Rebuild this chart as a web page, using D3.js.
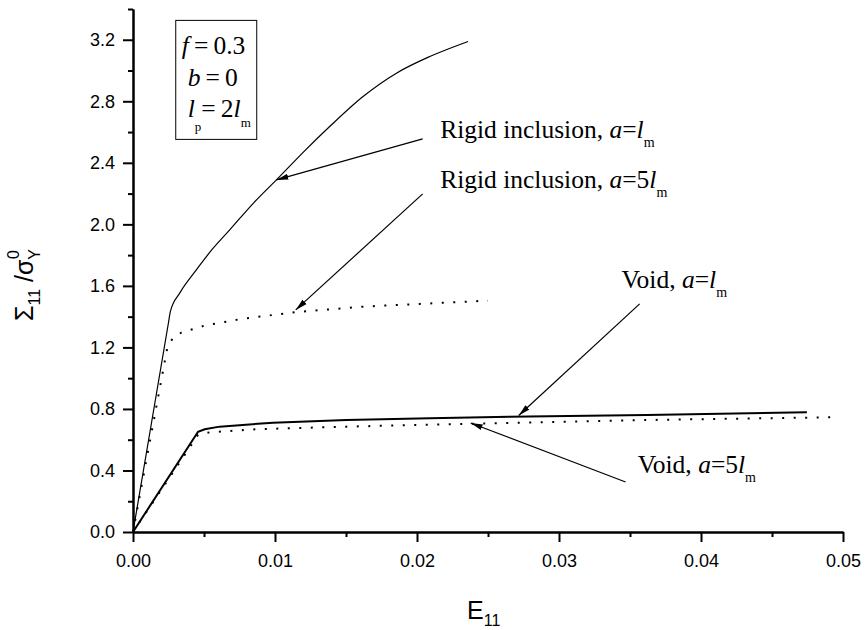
<!DOCTYPE html>
<html>
<head>
<meta charset="utf-8">
<script src="https://cdn.jsdelivr.net/npm/d3@7"></script>
<style>
body { margin: 0; background: #fff; }
.axis text { font-family: "Liberation Sans", Arial, sans-serif; font-size: 18px; fill: #000; }
.axis path, .axis line { stroke: #000; stroke-width: 2; }
.title { font-family: "Liberation Sans", Arial, sans-serif; fill: #000; }
.note { font-family: "Liberation Serif", "Times New Roman", serif; font-size: 25.5px; fill: #000; }
.curve { fill: none; stroke: #000; }
</style>
</head>
<body>
<script>
var width = 865;
var height = 630;

// E11 vs Sigma11/sigmaY0
var rigidL  = [[0,0],[0.0025,1.362],[0.00263,1.433],[0.00329,1.553],[0.00446,1.704],[0.0056,1.84],[0.00681,1.964],[0.0085,2.14],[0.0101,2.289],[0.0120,2.47],[0.01385,2.636],[0.0162,2.831],[0.01855,2.983],[0.0209,3.091],[0.0236,3.189]];
var rigid5L = [[0,0],[0.0024,1.19],[0.0028,1.262],[0.0034,1.296],[0.00505,1.342],[0.0075,1.383],[0.01139,1.429],[0.0162,1.465],[0.0202,1.483],[0.025,1.504]];
var voidL   = [[0,0],[0.00458,0.652],[0.00505,0.668],[0.0061,0.685],[0.00986,0.711],[0.01503,0.728],[0.0209,0.740],[0.0265,0.750],[0.0362,0.761],[0.04746,0.778]];
var void5L  = [[0,0],[0.00458,0.631],[0.0054,0.648],[0.00869,0.668],[0.01503,0.685],[0.0221,0.700],[0.0265,0.709],[0.0362,0.728],[0.0493,0.746]];

var xMajor = [0, 0.01, 0.02, 0.03, 0.04, 0.05];
var xMinor = [0.005, 0.015, 0.025, 0.035, 0.045];
var yMajor = [0, 0.4, 0.8, 1.2, 1.6, 2.0, 2.4, 2.8, 3.2];
var yMinor = [0.2, 0.6, 1.0, 1.4, 1.8, 2.2, 2.6, 3.0, 3.4];

// arrows: [tail E, tail S, tip E, tip S]
var arrows = [
    [0.0204, 2.556, 0.0101, 2.289],
    [0.0204, 2.198, 0.01146, 1.444],
    [0.03568, 1.483, 0.02716, 0.757],
    [0.03469, 0.325, 0.02378, 0.709]
];
// labels: [E, S, prefix, text between italic a and italic l]
var labels = [
    [0.02163, 2.563, "Rigid inclusion, ", "="],
    [0.02163, 2.237, "Rigid inclusion, ", "=5"],
    [0.0344, 1.587, "Void, ", "="],
    [0.03554, 0.384, "Void, ", "=5"]
];

var svg = d3.select("body").append("svg")
    .attr("width", width)
    .attr("height", height);

var x = d3.scaleLinear().domain([0, 0.05]).range([133, 843]);
var y = d3.scaleLinear().domain([0, 3.4]).range([532, 9]);

var defs = svg.append("defs");
defs.append("marker")
    .attr("id", "head")
    .attr("markerUnits", "userSpaceOnUse")
    .attr("viewBox", "0 -4 12 8")
    .attr("refX", 12)
    .attr("refY", 0)
    .attr("markerWidth", 12)
    .attr("markerHeight", 8)
    .attr("orient", "auto")
    .append("path")
    .attr("d", "M0,-3L12,0L0,3Z")
    .attr("fill", "#000");

// axes
svg.append("g")
    .attr("class", "axis")
    .attr("transform", "translate(0,532)")
    .call(d3.axisBottom(x).tickValues(xMinor).tickSize(5).tickSizeOuter(0).tickFormat(""));
svg.append("g")
    .attr("class", "axis")
    .attr("transform", "translate(0,532)")
    .call(d3.axisBottom(x).tickValues(xMajor).tickSize(10).tickSizeOuter(0).tickPadding(12).tickFormat(d3.format(".2f")));
svg.append("g")
    .attr("class", "axis")
    .attr("transform", "translate(133,0)")
    .call(d3.axisLeft(y).tickValues(yMinor).tickSize(5).tickSizeOuter(0).tickFormat(""));
svg.append("g")
    .attr("class", "axis")
    .attr("transform", "translate(133,0)")
    .call(d3.axisLeft(y).tickValues(yMajor).tickSize(10).tickSizeOuter(0).tickPadding(8).tickFormat(d3.format(".1f")));

// curves
var line = d3.line()
    .x(function(d) { return x(d[0]); })
    .y(function(d) { return y(d[1]); });

svg.append("path").attr("class", "curve")
    .attr("d", line.curve(d3.curveMonotoneX)(rigidL))
    .attr("stroke-width", 1.2);
line.curve(d3.curveLinear);
svg.append("path").attr("class", "curve").attr("d", line(voidL)).attr("stroke-width", 2);
[rigid5L, void5L].forEach(function(s) {
    svg.append("path").attr("class", "curve")
        .attr("d", line(s))
        .attr("stroke-width", 2)
        .attr("stroke-dasharray", "2,9.5");
});

// arrows
svg.selectAll(".arrow")
    .data(arrows)
    .enter()
    .append("line")
    .attr("class", "arrow")
    .attr("x1", function(d) { return x(d[0]); })
    .attr("y1", function(d) { return y(d[1]); })
    .attr("x2", function(d) { return x(d[2]); })
    .attr("y2", function(d) { return y(d[3]); })
    .attr("stroke", "#000")
    .attr("stroke-width", 1.2)
    .attr("marker-end", "url(#head)");

// curve labels
labels.forEach(function(d) {
    var t = svg.append("text")
        .attr("class", "note")
        .attr("x", x(d[0]))
        .attr("y", y(d[1]));
    t.append("tspan").text(d[2]);
    t.append("tspan").attr("font-style", "italic").text("a");
    t.append("tspan").text(d[3]);
    t.append("tspan").attr("font-style", "italic").text("l");
    t.append("tspan").attr("font-size", "14px").attr("dy", 9).text("m");
});

// parameter box
var box = svg.append("g").attr("transform", "translate(" + x(0.00301) + "," + y(3.326) + ")");
box.append("rect")
    .attr("width", 81)
    .attr("height", 119)
    .attr("fill", "none")
    .attr("stroke", "#000")
    .attr("stroke-width", 1);

var t1 = box.append("text").attr("class", "note").attr("font-size", "24px").attr("x", 6).attr("y", 34);
t1.append("tspan").attr("font-style", "italic").text("f");
t1.append("tspan").text("\u2009=\u20090.3");

var t2 = box.append("text").attr("class", "note").attr("font-size", "24px").attr("x", 12).attr("y", 66);
t2.append("tspan").attr("font-style", "italic").text("b");
t2.append("tspan").text("\u2009=\u20090");

var t3 = box.append("text").attr("class", "note").attr("font-size", "24px").attr("x", 12).attr("y", 97);
t3.append("tspan").attr("font-style", "italic").text("l");
t3.append("tspan").attr("font-size", "13px").attr("dy", 14).text("p");
t3.append("tspan").attr("dy", -14).text("=\u20092");
t3.append("tspan").attr("font-style", "italic").text("l");
t3.append("tspan").attr("font-size", "13px").attr("dy", 10).text("m");

// axis titles
var xt = svg.append("text").attr("class", "title").attr("x", 467).attr("y", 619).attr("font-size", "25px");
xt.append("tspan").text("E");
xt.append("tspan").attr("font-size", "16px").attr("dy", 7).text("11");

var yt = svg.append("text").attr("class", "title")
    .attr("transform", "translate(33,285) rotate(-90)")
    .attr("text-anchor", "middle")
    .attr("font-size", "25px");
yt.append("tspan").text("\u03A3");
yt.append("tspan").attr("font-size", "16px").attr("dy", 7).text("11");
yt.append("tspan").attr("dy", -7).text(" /\u03C3");
yt.append("tspan").attr("font-size", "16px").attr("dy", 7).text("Y");
yt.append("tspan").attr("font-size", "16px").attr("dx", -10).attr("dy", -21).text("0");
</script>
</body>
</html>
